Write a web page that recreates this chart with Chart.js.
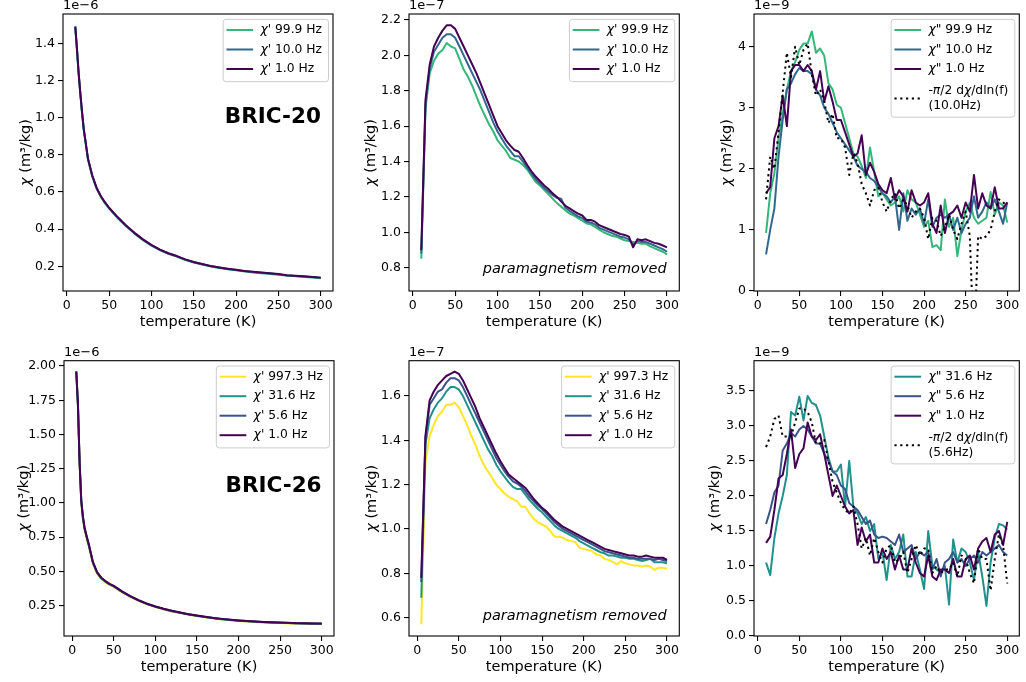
<!DOCTYPE html>
<html>
<head>
<meta charset="utf-8">
<script src="https://cdn.jsdelivr.net/npm/chart.js@4.4.1/dist/chart.umd.min.js"></script>
<style>
  body { margin: 0; background: #fff; width: 1026px; height: 682px; position: relative; overflow: hidden; }
  canvas { position: absolute; }
</style>
</head>
<body>
<script>
// temperatures (K)
const temp5 = [10,15,20,25,30,35,40,45,50,55,60,65,70,75,80,85,90,95,100,105,110,115,120,125,130,135,140,145,150,155,160,165,170,175,180,185,190,195,200,205,210,215,220,225,230,235,240,245,250,255,260,265,270,275,280,285,290,295,300]
const temp5from5 = [5,10,15,20,25,30,35,40,45,50,55,60,65,70,75,80,85,90,95,100,105,110,115,120,125,130,135,140,145,150,155,160,165,170,175,180,185,190,195,200,205,210,215,220,225,230,235,240,245,250,255,260,265,270,275,280,285,290,295,300]
const tempRaw20 = [10,12,14,16,18,20,25,30,35,40,45,50,60,70,80,90,100,110,120,130,140,150,160,170,180,190,200,210,220,230,240,250,260,270,280,290,300]
const tempRaw26 = [5,7,9,11,13,15,17,20,25,30,35,40,45,50,60,70,80,90,100,110,120,130,140,150,160,170,180,190,200,210,220,230,240,250,260,270,280,290,300]

// BRIC-20 raw chi' (1e-6 m3/kg)
const raw20_99 = [1.49,1.365,1.235,1.125,1.025,0.935,0.775,0.685,0.62,0.575,0.54,0.51,0.46,0.415,0.376,0.341,0.311,0.287,0.267,0.252,0.234,0.22,0.209,0.199,0.191,0.184,0.178,0.172,0.167,0.163,0.159,0.155,0.15,0.147,0.143,0.14,0.136]
const raw20_10 = [1.49,1.368,1.238,1.128,1.028,0.938,0.778,0.688,0.623,0.578,0.543,0.513,0.463,0.418,0.378,0.343,0.313,0.289,0.269,0.254,0.236,0.222,0.211,0.201,0.193,0.186,0.18,0.174,0.169,0.165,0.161,0.157,0.151,0.148,0.145,0.142,0.138]
const raw20_1 = [1.49,1.37,1.24,1.13,1.03,0.94,0.78,0.69,0.625,0.58,0.545,0.515,0.465,0.42,0.38,0.345,0.315,0.29,0.27,0.255,0.237,0.223,0.212,0.202,0.194,0.187,0.181,0.175,0.17,0.166,0.162,0.158,0.152,0.149,0.146,0.143,0.139]

// BRIC-20 chi' with paramagnetism removed (1e-7)
const para20_99 = [0.85,1.7,1.9,1.97,2.01,2.03,2.07,2.05,2.04,1.98,1.92,1.88,1.83,1.77,1.71,1.66,1.61,1.57,1.52,1.49,1.46,1.42,1.41,1.4,1.38,1.355,1.32,1.285,1.265,1.24,1.215,1.19,1.165,1.145,1.125,1.105,1.095,1.08,1.065,1.05,1.045,1.03,1.015,1.0,0.99,0.98,0.975,0.965,0.955,0.95,0.945,0.94,0.935,0.935,0.92,0.91,0.9,0.89,0.875]
const para20_10 = [0.88,1.73,1.93,2.02,2.06,2.1,2.12,2.12,2.1,2.05,2.0,1.95,1.9,1.85,1.8,1.74,1.68,1.62,1.57,1.53,1.49,1.46,1.43,1.43,1.4,1.365,1.33,1.3,1.275,1.25,1.23,1.21,1.195,1.19,1.14,1.12,1.105,1.09,1.08,1.06,1.055,1.045,1.025,1.015,1.005,0.995,0.985,0.975,0.97,0.96,0.93,0.95,0.945,0.945,0.935,0.925,0.915,0.905,0.89]
const para20_1 = [0.9,1.75,1.95,2.05,2.1,2.14,2.17,2.17,2.15,2.1,2.05,2.0,1.95,1.9,1.84,1.78,1.72,1.66,1.6,1.56,1.52,1.49,1.465,1.455,1.42,1.38,1.345,1.315,1.29,1.265,1.245,1.22,1.2,1.175,1.15,1.135,1.12,1.105,1.095,1.07,1.07,1.06,1.04,1.03,1.02,1.01,1.0,0.99,0.985,0.975,0.915,0.96,0.955,0.96,0.95,0.94,0.935,0.925,0.915]

// BRIC-20 chi'' (1e-9)
const quad20_99 = [0.95,1.6,1.93,2.5,2.9,3.3,3.6,3.75,3.95,4.05,4.05,4.25,3.9,3.97,3.85,3.4,3.3,3.05,3.0,2.75,2.5,2.25,2.2,2.05,1.85,2.35,1.95,1.55,1.6,1.5,1.4,1.45,1.55,1.3,1.65,1.5,1.45,1.25,1.05,1.15,0.72,0.75,0.67,1.5,1.05,1.2,0.57,1.0,1.3,1.45,1.2,1.1,1.15,1.2,1.62,1.25,1.45,1.4,1.12]
const quad20_10 = [0.6,1.0,1.35,2.2,2.8,3.3,3.4,3.55,3.65,3.6,3.6,3.55,3.3,3.2,3.0,2.9,2.75,2.6,2.5,2.4,2.3,2.2,2.05,2.0,1.95,1.85,1.8,1.7,1.6,1.55,1.45,1.55,1.0,1.6,1.15,1.35,1.25,1.35,1.1,1.5,1.05,1.2,1.25,1.2,1.25,1.0,1.2,0.95,1.1,1.2,1.55,1.2,1.3,1.45,1.35,1.5,1.3,1.1,1.45]
const quad20_1 = [1.6,1.7,2.5,2.7,3.2,2.7,3.6,3.7,3.7,3.6,3.7,3.6,3.3,3.6,3.1,3.35,3.1,2.8,2.8,2.6,2.4,2.2,2.25,2.55,1.9,2.1,1.95,1.75,1.65,1.6,1.85,1.5,1.65,1.55,1.3,1.65,1.45,1.4,1.45,1.6,1.1,0.95,1.4,0.95,1.25,1.3,1.4,1.2,1.45,1.3,1.9,1.35,1.6,1.4,1.35,1.7,1.35,1.35,1.45]
const deriv20 = [1.5,2.2,2.0,2.6,3.25,3.9,3.5,4.0,3.7,3.95,4.05,3.55,3.2,3.3,3.1,2.75,2.9,2.5,2.5,2.35,1.9,2.25,2.1,1.75,1.6,1.4,1.65,1.7,1.45,1.3,1.5,1.6,1.35,1.5,1.4,1.2,1.3,1.35,1.2,0.85,1.2,1.15,0.9,1.05,1.25,1.0,0.85,1.1,1.3,0.9,-1.0,0.9,0.85,0.9,1.0,1.3,1.5,1.45,1.4]

// BRIC-26 raw chi' (1e-6)
const raw26_997 = [1.96,1.71,1.29,1.0,0.88,0.8,0.75,0.685,0.557,0.485,0.446,0.421,0.402,0.387,0.348,0.314,0.285,0.26,0.24,0.223,0.208,0.196,0.184,0.174,0.165,0.157,0.15,0.144,0.139,0.135,0.131,0.128,0.125,0.123,0.121,0.119,0.118,0.117,0.116]
const raw26_31 = [1.96,1.715,1.295,1.01,0.89,0.81,0.76,0.692,0.563,0.49,0.45,0.426,0.406,0.391,0.351,0.317,0.287,0.262,0.242,0.225,0.21,0.198,0.186,0.176,0.167,0.159,0.152,0.146,0.141,0.137,0.133,0.13,0.127,0.125,0.123,0.121,0.12,0.119,0.118]
const raw26_5 = [1.96,1.718,1.298,1.015,0.895,0.815,0.765,0.696,0.567,0.493,0.453,0.428,0.408,0.393,0.353,0.319,0.289,0.264,0.244,0.227,0.212,0.199,0.187,0.177,0.168,0.16,0.153,0.147,0.142,0.138,0.134,0.131,0.128,0.126,0.124,0.122,0.121,0.12,0.119]
const raw26_1 = [1.96,1.72,1.3,1.02,0.9,0.82,0.77,0.7,0.57,0.495,0.455,0.43,0.41,0.395,0.355,0.32,0.29,0.265,0.245,0.228,0.213,0.2,0.188,0.178,0.169,0.161,0.154,0.148,0.143,0.139,0.135,0.132,0.129,0.127,0.125,0.123,0.122,0.121,0.12]

// BRIC-26 chi' with paramagnetism removed (1e-7)
const para26_997 = [0.57,1.3,1.42,1.47,1.51,1.53,1.56,1.56,1.57,1.55,1.51,1.47,1.42,1.38,1.33,1.29,1.26,1.23,1.2,1.18,1.16,1.145,1.135,1.125,1.1,1.1,1.07,1.045,1.03,1.02,1.01,0.99,0.965,0.965,0.96,0.95,0.945,0.94,0.915,0.91,0.905,0.9,0.885,0.88,0.865,0.86,0.85,0.84,0.855,0.845,0.84,0.835,0.835,0.83,0.835,0.83,0.815,0.825,0.825,0.82]
const para26_31 = [0.69,1.38,1.5,1.54,1.57,1.59,1.62,1.64,1.64,1.63,1.6,1.56,1.52,1.48,1.44,1.4,1.36,1.33,1.29,1.26,1.235,1.21,1.19,1.18,1.18,1.155,1.13,1.11,1.09,1.075,1.055,1.035,1.015,1.0,0.99,0.98,0.97,0.96,0.945,0.935,0.925,0.915,0.905,0.895,0.89,0.88,0.88,0.875,0.87,0.87,0.865,0.865,0.86,0.855,0.86,0.865,0.85,0.85,0.85,0.845]
const para26_5 = [0.76,1.41,1.56,1.59,1.62,1.63,1.66,1.68,1.68,1.67,1.64,1.6,1.56,1.52,1.48,1.44,1.4,1.36,1.32,1.29,1.26,1.235,1.215,1.205,1.19,1.17,1.145,1.125,1.105,1.09,1.07,1.05,1.03,1.015,1.0,0.99,0.98,0.97,0.96,0.95,0.94,0.93,0.92,0.91,0.9,0.895,0.89,0.885,0.88,0.875,0.87,0.87,0.865,0.865,0.865,0.865,0.86,0.865,0.86,0.855]
const para26_1 = [0.78,1.42,1.58,1.62,1.65,1.67,1.69,1.7,1.71,1.7,1.67,1.63,1.59,1.55,1.5,1.46,1.42,1.38,1.34,1.305,1.275,1.245,1.23,1.215,1.2,1.185,1.16,1.135,1.115,1.095,1.08,1.06,1.04,1.025,1.01,1.0,0.99,0.98,0.97,0.96,0.95,0.94,0.93,0.92,0.91,0.905,0.9,0.895,0.89,0.885,0.88,0.88,0.875,0.875,0.88,0.875,0.87,0.87,0.87,0.86]

// BRIC-26 chi'' (1e-9)
const quad26_31 = [1.05,0.87,1.4,1.75,2.0,2.3,3.2,3.15,3.42,3.08,3.43,3.33,3.3,3.15,2.85,2.55,2.35,2.35,2.45,1.85,2.5,1.85,1.75,1.6,1.7,1.5,1.6,1.1,1.2,0.8,1.3,1.1,1.2,1.45,0.85,0.85,1.2,0.95,0.67,1.5,1.0,0.95,0.9,1.0,0.45,1.38,1.05,1.25,1.2,1.05,0.8,1.2,0.85,0.43,1.05,1.4,1.6,1.58,1.52]
const quad26_5 = [1.6,1.8,2.05,2.15,2.65,2.75,2.9,2.85,2.95,3.0,2.95,2.85,2.75,2.75,2.6,2.5,2.35,2.3,2.15,2.1,1.9,1.85,1.8,1.7,1.6,1.65,1.45,1.4,1.42,1.4,1.35,1.3,1.45,1.2,1.25,1.3,1.1,1.2,1.15,1.2,0.95,1.1,0.85,1.05,1.1,1.2,1.05,1.1,1.0,1.1,1.15,1.05,1.2,1.15,1.2,1.25,1.3,1.2,1.15]
const quad26_1 = [1.33,1.42,1.8,2.25,2.3,2.6,2.95,2.4,2.6,2.68,3.05,2.85,2.8,2.88,2.6,2.3,2.0,2.15,2.0,1.85,1.75,1.8,1.3,1.55,1.35,1.45,1.05,1.05,1.25,1.1,1.2,0.95,1.15,0.95,0.95,1.25,1.05,0.9,0.85,1.15,0.85,0.8,0.95,0.95,0.9,1.1,0.85,0.85,1.1,1.15,0.95,1.25,1.35,1.4,1.2,1.45,1.5,1.3,1.63]
const deriv26 = [2.7,2.85,3.1,3.15,2.85,2.85,2.85,3.05,3.25,3.25,3.2,3.05,2.75,2.75,2.8,2.5,2.2,2.05,1.9,1.8,1.75,1.85,1.6,1.25,1.4,1.15,1.4,1.2,1.05,1.25,1.3,1.05,1.1,1.2,0.9,1.1,1.3,1.15,1.25,1.25,0.9,1.0,0.9,0.95,0.95,1.05,0.85,1.15,1.1,0.9,0.75,1.25,1.1,1.1,0.65,1.1,1.45,1.3,0.75]

const PURPLE = '#440154', BLUE4 = '#31688e', GREEN = '#35b779'
const BLUE5 = '#3b528b', TEAL = '#21918c', YELLOW = '#fde725'
const FONT = '"DejaVu Sans", sans-serif'

const panels = [
  { rect: [63, 14, 333, 291], x: [-4.5, 314.5], y: [0.067, 1.558], step: 0.2, dec: 1, offset: '1e\u22126', yTitleDx: -37,
    note: { text: 'BRIC-20', font: 'bold 21.5px', fx: 0.955, fy: 0.625 },
    series: [
      { label: "χ' 99.9 Hz", xs: tempRaw20, ys: raw20_99, color: GREEN },
      { label: "χ' 10.0 Hz", xs: tempRaw20, ys: raw20_10, color: BLUE4 },
      { label: "χ' 1.0 Hz", xs: tempRaw20, ys: raw20_1, color: PURPLE } ] },
  { rect: [409, 14, 679.3, 291], x: [-4.5, 314.5], y: [0.668, 2.234], step: 0.2, dec: 1, offset: '1e\u22127', yTitleDx: -38,
    note: { text: 'paramagnetism removed', font: 'italic 14.5px', fx: 0.953, fy: 0.08 },
    series: [
      { label: "χ' 99.9 Hz", xs: temp5, ys: para20_99, color: GREEN },
      { label: "χ' 10.0 Hz", xs: temp5, ys: para20_10, color: BLUE4 },
      { label: "χ' 1.0 Hz", xs: temp5, ys: para20_1, color: PURPLE } ] },
  { rect: [754, 14, 1019.3, 291], x: [-4.5, 314.5], y: [0, 4.535], step: 1, dec: 0, offset: '1e\u22129', yTitleDx: -27,
    series: [
      { label: 'χ" 99.9 Hz', xs: temp5, ys: quad20_99, color: GREEN },
      { label: 'χ" 10.0 Hz', xs: temp5, ys: quad20_10, color: BLUE4 },
      { label: 'χ" 1.0 Hz', xs: temp5, ys: quad20_1, color: PURPLE },
      { label: '-π/2 dχ/dln(f)\n(10.0Hz)', xs: temp5, ys: deriv20, color: '#000', dash: true } ] },
  { rect: [64, 360.7, 334, 636], x: [-9.75, 314.75], y: [0.029, 2.039], step: 0.25, dec: 2, offset: '1e\u22126', yTitleDx: -40,
    note: { text: 'BRIC-26', font: 'bold 21.5px', fx: 0.954, fy: 0.542 },
    series: [
      { label: "χ' 997.3 Hz", xs: tempRaw26, ys: raw26_997, color: YELLOW },
      { label: "χ' 31.6 Hz", xs: tempRaw26, ys: raw26_31, color: TEAL },
      { label: "χ' 5.6 Hz", xs: tempRaw26, ys: raw26_5, color: BLUE5 },
      { label: "χ' 1.0 Hz", xs: tempRaw26, ys: raw26_1, color: PURPLE } ] },
  { rect: [409, 360.7, 679.3, 636], x: [-9.75, 314.75], y: [0.517, 1.759], step: 0.2, dec: 1, offset: '1e\u22127', yTitleDx: -37,
    note: { text: 'paramagnetism removed', font: 'italic 14.5px', fx: 0.953, fy: 0.07 },
    series: [
      { label: "χ' 997.3 Hz", xs: temp5from5, ys: para26_997, color: YELLOW },
      { label: "χ' 31.6 Hz", xs: temp5from5, ys: para26_31, color: TEAL },
      { label: "χ' 5.6 Hz", xs: temp5from5, ys: para26_5, color: BLUE5 },
      { label: "χ' 1.0 Hz", xs: temp5from5, ys: para26_1, color: PURPLE } ] },
  { rect: [754, 360.7, 1019.3, 636], x: [-4.5, 314.5], y: [0, 3.933], step: 0.5, dec: 1, offset: '1e\u22129', yTitleDx: -39,
    series: [
      { label: 'χ" 31.6 Hz', xs: temp5, ys: quad26_31, color: TEAL },
      { label: 'χ" 5.6 Hz', xs: temp5, ys: quad26_5, color: BLUE5 },
      { label: 'χ" 1.0 Hz', xs: temp5, ys: quad26_1, color: PURPLE },
      { label: '-π/2 dχ/dln(f)\n(5.6Hz)', xs: temp5, ys: deriv26, color: '#000', dash: true } ] }
]

// text with italic greek letters, like mathtext
function richParts(str) {
  return str.split(/([χπ])/).filter(s => s.length)
}
function richWidth(ctx, str, size) {
  var w = 0
  richParts(str).forEach(p => {
    ctx.font = (/[χπ]/.test(p) ? 'italic ' : '') + size + 'px ' + FONT
    w += ctx.measureText(p).width
  })
  return w
}
function drawRich(ctx, str, x, y, size, align) {
  var w = richWidth(ctx, str, size)
  var cx = align == 'center' ? x - w / 2 : (align == 'right' ? x - w : x)
  ctx.textAlign = 'left'
  richParts(str).forEach(p => {
    ctx.font = (/[χπ]/.test(p) ? 'italic ' : '') + size + 'px ' + FONT
    ctx.fillText(p, cx, y)
    cx += ctx.measureText(p).width
  })
}

function drawLegend(ctx, ca, series) {
  var fs = 12.3
  var maxW = 0
  series.forEach(s => s.label.split('\n').forEach(l => { maxW = Math.max(maxW, richWidth(ctx, l, fs)) }))
  var right = ca.right - 4.5
  var left = right - (37.3 + maxW + 6.5)
  var top = ca.top + 5.3
  var centers = []
  var c = top + 10.7
  series.forEach((s, i) => {
    var n = s.label.split('\n').length
    if (i > 0) c += 19.5 + (n > 1 ? 10 : 0)
    centers.push(c)
  })
  var lastN = series[series.length - 1].label.split('\n').length
  var bottom = c + 12.7 + (lastN > 1 ? 6 : 0)

  var r = 3
  ctx.save()
  ctx.beginPath()
  ctx.moveTo(left + r, top)
  ctx.arcTo(right, top, right, bottom, r)
  ctx.arcTo(right, bottom, left, bottom, r)
  ctx.arcTo(left, bottom, left, top, r)
  ctx.arcTo(left, top, right, top, r)
  ctx.closePath()
  ctx.fillStyle = 'rgba(255,255,255,0.8)'
  ctx.fill()
  ctx.strokeStyle = '#cccccc'
  ctx.lineWidth = 1
  ctx.stroke()

  series.forEach((s, i) => {
    ctx.beginPath()
    ctx.strokeStyle = s.color
    ctx.lineWidth = 2
    ctx.setLineDash(s.dash ? [2.2, 3.6] : [])
    ctx.moveTo(left + 3.3, centers[i])
    ctx.lineTo(left + 30, centers[i])
    ctx.stroke()
    ctx.setLineDash([])
    ctx.fillStyle = '#000'
    ctx.textBaseline = 'middle'
    var lines = s.label.split('\n')
    lines.forEach((l, k) => {
      drawRich(ctx, l, left + 37.3, centers[i] + (k - (lines.length - 1) / 2) * 15.5, fs, 'left')
    })
  })
  ctx.restore()
}

function decorPlugin(p) {
  return {
    id: 'decor',
    afterDatasetsDraw(chart) {
      const ctx = chart.ctx, ca = chart.chartArea
      ctx.save()
      ctx.strokeStyle = '#000'
      ctx.lineWidth = 1.1
      ctx.strokeRect(ca.left, ca.top, ca.right - ca.left, ca.bottom - ca.top)
      ctx.fillStyle = '#000'
      ctx.textBaseline = 'middle'
      drawRich(ctx, p.offset, ca.left, ca.top - 8.5, 13, 'left')
      drawRich(ctx, 'temperature (K)', (ca.left + ca.right) / 2, ca.bottom + 31, 14.5, 'center')
      if (p.note) {
        ctx.font = p.note.font + ' ' + FONT
        ctx.textAlign = 'right'
        ctx.fillText(p.note.text, ca.left + p.note.fx * (ca.right - ca.left), ca.bottom - p.note.fy * (ca.bottom - ca.top))
      }
      ctx.translate(ca.left + p.yTitleDx, (ca.top + ca.bottom) / 2)
      ctx.rotate(-Math.PI / 2)
      drawRich(ctx, 'χ (m³/kg)', 0, 0, 14.5, 'center')
      ctx.restore()
      drawLegend(ctx, ca, p.series)
    }
  }
}

function makePanel(p) {
  const [L, T, R, B] = p.rect
  const cl = Math.floor(L) - 50
  const ct = Math.floor(T) - 14
  const cw = Math.ceil(R) + 8 - cl
  const ch = Math.ceil(B) + 46 - ct

  const canvas = document.createElement('canvas')
  canvas.width = cw
  canvas.height = ch
  canvas.style.left = cl + 'px'
  canvas.style.top = ct + 'px'
  canvas.style.width = cw + 'px'
  canvas.style.height = ch + 'px'
  document.body.appendChild(canvas)

  const n = p.series.length
  const datasets = p.series.map((s, i) => ({
    label: s.label,
    data: s.xs.map((x, k) => ({ x: x, y: s.ys[k] })),
    borderColor: s.color,
    borderWidth: 2,
    borderDash: s.dash ? [2.2, 3.6] : [],
    borderJoinStyle: 'round',
    pointRadius: 0,
    tension: 0,
    fill: false,
    order: n - i
  }))

  new Chart(canvas.getContext('2d'), {
    type: 'line',
    data: { datasets: datasets },
    options: {
      responsive: false,
      maintainAspectRatio: false,
      devicePixelRatio: 1,
      animation: false,
      events: [],
      layout: { padding: { left: 0, top: T - ct, right: cl + cw - R, bottom: 0 } },
      plugins: { legend: { display: false }, tooltip: { enabled: false } },
      scales: {
        x: {
          type: 'linear', position: 'bottom', min: p.x[0], max: p.x[1],
          border: { display: false },
          grid: { drawOnChartArea: false, drawTicks: true, tickLength: 5, color: '#000', lineWidth: 1.1 },
          ticks: { stepSize: 50, includeBounds: false, autoSkip: false, maxRotation: 0, padding: 2,
                   color: '#000', font: { family: FONT, size: 12.5 } },
          afterFit: s => { s.height = ct + ch - B; s.paddingLeft = 0; s.paddingRight = 0 }
        },
        y: {
          type: 'linear', position: 'left', min: p.y[0], max: p.y[1],
          border: { display: false },
          grid: { drawOnChartArea: false, drawTicks: true, tickLength: 5, color: '#000', lineWidth: 1.1 },
          ticks: { stepSize: p.step, includeBounds: false, autoSkip: false, padding: 3,
                   color: '#000', font: { family: FONT, size: 12.5 },
                   callback: v => v.toFixed(p.dec) },
          afterFit: s => { s.width = L - cl; s.paddingTop = 0; s.paddingBottom = 0 }
        }
      }
    },
    plugins: [decorPlugin(p)]
  })
}

panels.forEach(makePanel)
</script>
</body>
</html>
